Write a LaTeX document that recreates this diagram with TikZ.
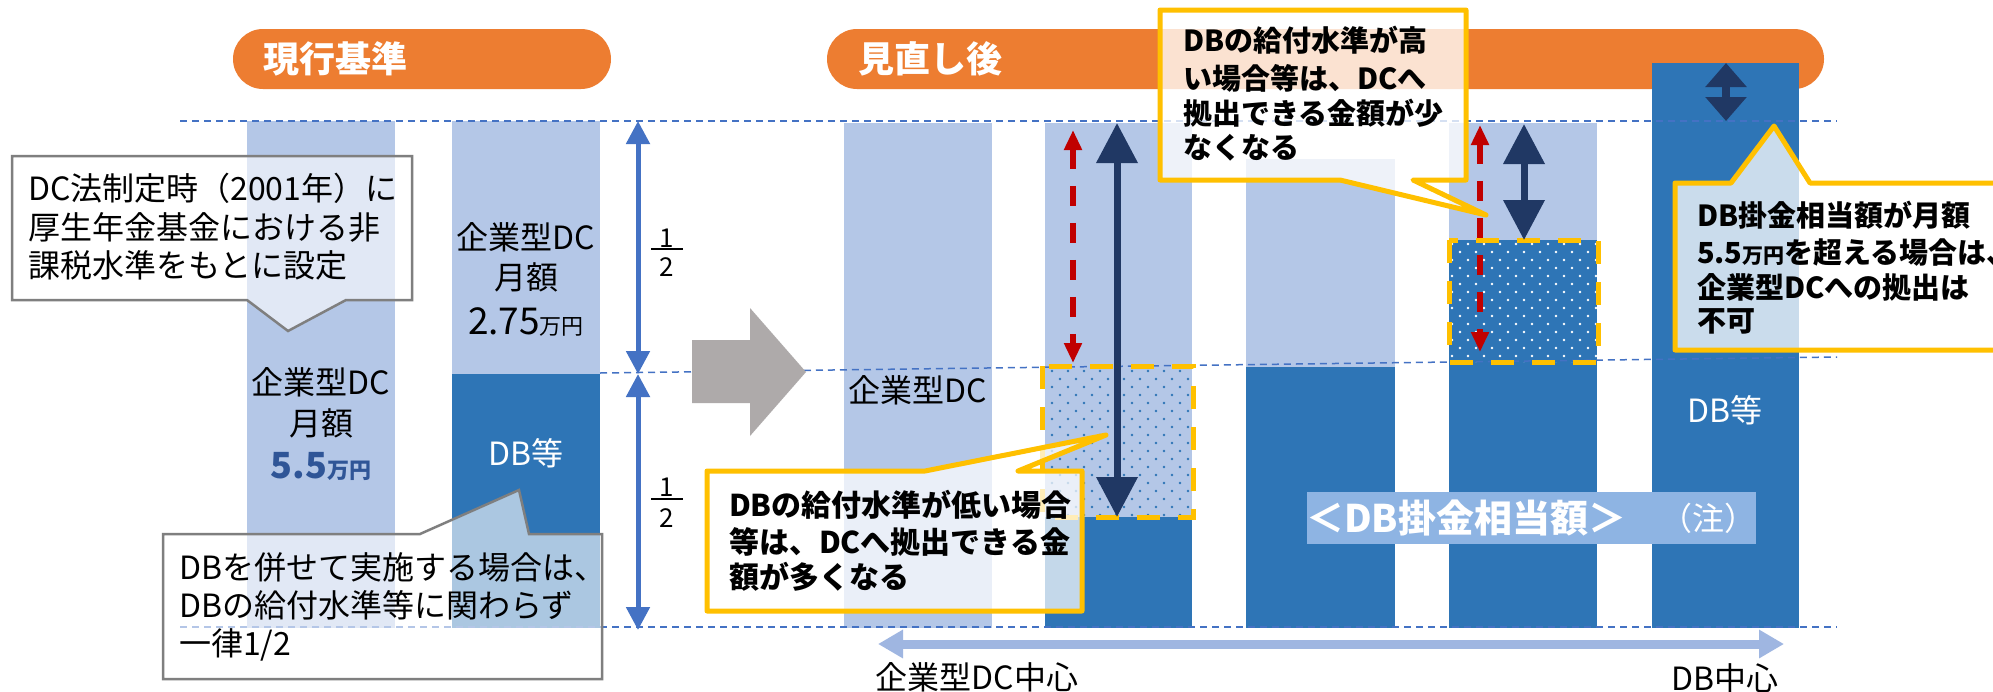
\documentclass[tikz,border=0pt]{standalone}
\usepackage{fontspec}
\setmainfont{Noto Sans CJK JP}
\usetikzlibrary{arrows.meta}
\definecolor{lb}{HTML}{B4C7E7}
\definecolor{db}{HTML}{2E75B6}
\definecolor{og}{HTML}{ED7D31}
\definecolor{dl}{HTML}{4472C4}
\definecolor{nv}{HTML}{203864}
\definecolor{rd}{HTML}{C00000}
\definecolor{yl}{HTML}{FFC000}
\definecolor{gy}{HTML}{AEAAAA}
\definecolor{cg}{HTML}{7F7F7F}
\definecolor{num}{HTML}{2F5597}
\definecolor{lab}{HTML}{8EB4E3}
\definecolor{ba}{HTML}{9FB6E1}
\tikzset{
  tx/.style={inner sep=0pt, outer sep=0pt},
  fr/.style={tx, font=\fontsize{#1}{#1}\selectfont, text height=0.88*#1pt, text depth=0.12*#1pt},
  fb/.style={tx, font=\bfseries\fontsize{#1}{#1}\selectfont, text height=0.88*#1pt, text depth=0.12*#1pt},
  dashln/.style={draw=dl, line width=1.5pt, dash pattern=on 7pt off 5pt},
  bluearr/.style={draw=dl, line width=5pt, {Triangle[width=23pt,length=23pt]}-{Triangle[width=23pt,length=23pt]}},
  navyarr/.style={draw=nv, line width=7pt, {Triangle[width=40pt,length=40pt]}-{Triangle[width=40pt,length=40pt]}},
  navysm/.style={draw=nv, line width=8pt, {Triangle[width=40pt,length=24pt]}-{Triangle[width=40pt,length=24pt]}},
  redarr/.style={draw=rd, line width=5.5pt, dash pattern=on 20pt off 17pt, {Triangle[width=17pt,length=20pt]}-{Triangle[width=17pt,length=20pt]}},
  botarr/.style={draw=ba, line width=9pt, {Triangle[width=27pt,length=25pt]}-{Triangle[width=27pt,length=25pt]}},
  ydash/.style={draw=yl, line width=5pt, dash pattern=on 23pt off 18pt},
  grayco/.style={fill=white, fill opacity=0.6, draw=cg, draw opacity=1, line width=2.5pt},
  yco/.style={fill=white, fill opacity=#1, draw=yl, draw opacity=1, line width=5pt, line join=round},
}
\begin{document}
\begin{tikzpicture}[x=1pt,y=-1pt]
\clip (0,0) rectangle (1993,691);
\fill[white] (0,0) rectangle (1993,691);

% pills
\fill[og, rounded corners=30pt] (233,29) rectangle (611,89);
\fill[og, rounded corners=30pt] (827,29) rectangle (1824,89);
\node[fb=36, text=white, anchor=west] (p1) at (263,59) {現行基準};
\node[fb=36, text=white, anchor=west] (p2) at (858,59) {見直し後};

% bars (current)
\fill[lb] (247,121) rectangle (395,628);
\fill[lb] (452,121) rectangle (600,374);
\fill[db] (452,374) rectangle (600,628);

% bars (after)
\fill[lb] (844,123) rectangle (992,628);
\fill[lb] (1045,123) rectangle (1192,517);
\fill[db] (1045,517) rectangle (1192,628);
\fill[lb] (1246,159) rectangle (1395,367);
\fill[db] (1246,367) rectangle (1395,628);
\fill[lb] (1449,123) rectangle (1597,240);
\fill[db] (1449,240) rectangle (1597,628);
\fill[db] (1652,63) rectangle (1799,628);

% dots
\begin{scope}
\clip (1045,366) rectangle (1192,517);
\foreach \j in {0,...,19} \foreach \i in {0,...,9}
  \fill[db] ({1052+\i*16+mod(\j,2)*8},{371+\j*8}) circle (1.3);
\end{scope}
\begin{scope}
\clip (1449,240) rectangle (1597,362);
\foreach \j in {0,...,15} \foreach \i in {0,...,9}
  \fill[white] ({1452+\i*16+mod(\j,2)*8},{244+\j*8}) circle (1.3);
\end{scope}

% dashed guide lines
\coordinate (gt1) at (180,121); \coordinate (gt2) at (1837,121);
\coordinate (gm1) at (600,373); \coordinate (gm2) at (1837,357);
\coordinate (gb1) at (180,627); \coordinate (gb2) at (1837,627);
\draw[dashln] (gt1) -- (gt2);
\draw[dashln] (gm1) -- (gm2);
\draw[dashln] (gb1) -- (gb2);

% yellow dashed boxes
\draw[ydash] (1042,366) rectangle (1193,517);
\draw[ydash] (1449,240) rectangle (1598,362);

% gray block arrow
\fill[gy] (692,340) -- (750,340) -- (750,308) -- (806,372) -- (750,436) -- (750,403) -- (692,403) -- cycle;

% bar texts
\node[fr=32] (b1a) at (321,382) {企業型DC};
\node[fr=32] (b1b) at (321,423) {月額};
\node[fb=36, text=num] (b1c) at (321,465) {5.5{\fontsize{22}{22}\selectfont 万円}};
\node[fr=32] (b2a) at (526,237) {企業型DC};
\node[fr=32] (b2b) at (526,277) {月額};
\node[fr=37] (b2c) at (526,320) {2.75{\fontsize{22}{22}\selectfont 万円}};
\node[fr=32, text=white] (b2d) at (526,453) {DB等};
\node[fr=32] (bAa) at (918,390) {企業型DC};
\node[fr=32, text=white] (bEa) at (1725,410) {DB等};

% left double arrow and fractions
\coordinate (la1) at (638,121); \coordinate (la2) at (638,374); \coordinate (la3) at (638,630);
\draw[bluearr] (la1) -- (la2);
\draw[bluearr] (la2) -- (la3);
\node[fr=26] (f1n) at (667,238) {1};
\coordinate (f1l) at (651,249); \coordinate (f1r) at (683,249);
\draw[line width=1.3pt] (f1l) -- (f1r);
\node[fr=26] (f1d) at (667,267) {2};
\node[fr=26] (f2n) at (667,487) {1};
\coordinate (f2l) at (651,499); \coordinate (f2r) at (683,499);
\draw[line width=1.3pt] (f2l) -- (f2r);
\node[fr=26] (f2d) at (667,518) {2};

% arrows in bars
\coordinate (rb1) at (1073,130); \coordinate (rb2) at (1073,363);
\draw[redarr] (rb1) -- (rb2);
\coordinate (nb1) at (1117,123); \coordinate (nb2) at (1117,517);
\draw[navyarr] (nb1) -- (nb2);
\coordinate (rd1) at (1480,125); \coordinate (rd2) at (1480,352);
\draw[redarr] (rd1) -- (rd2);
\coordinate (nd1) at (1524,124); \coordinate (nd2) at (1524,240);
\draw[navyarr] (nd1) -- (nd2);
\coordinate (ne1) at (1726,63); \coordinate (ne2) at (1726,121);
\draw[navysm] (ne1) -- (ne2);

% bottom arrow
\coordinate (ax1) at (878,644); \coordinate (ax2) at (1784,644);
\draw[botarr] (ax1) -- (ax2);
\node[fr=32] (lx1) at (977,677) {企業型DC中心};
\node[fr=32] (lx2) at (1725,678) {DB中心};

% label
\fill[lab] (1307,492) rectangle (1756,544);
\node[fb=38, text=white, anchor=west] (lab1) at (1306,518) {＜DB掛金相当額＞};
\node[fr=32, text=white] (lab2) at (1708,518) {（注）};

% gray callouts
\path[grayco] (12,156) -- (412,156) -- (412,300) -- (346,300) -- (288,331) -- (247,300) -- (12,300) -- cycle;
\node[fr=32, anchor=west] (c1a) at (28,188) {DC法制定時（2001年）に};
\node[fr=32, anchor=west] (c1b) at (28,227) {厚生年金基金における非};
\node[fr=32, anchor=west] (c1c) at (28,265) {課税水準をもとに設定};

\path[grayco] (163,534) -- (420,534) -- (519,490) -- (529,534) -- (602,534) -- (602,679) -- (163,679) -- cycle;
\node[fr=32, anchor=west] (c2a) at (179,567) {DBを併せて実施する場合は、};
\node[fr=32, anchor=west] (c2b) at (179,605) {DBの給付水準等に関わらず};
\node[fr=32, anchor=west] (c2c) at (179,643) {一律1/2};

% yellow callouts
\path[yco=0.72] (707,471) -- (925,471) -- (1106,435) -- (1018,471) -- (1082,471) -- (1082,611) -- (707,611) -- cycle;
\node[fb=30, anchor=west] (lo1) at (729,505) {DBの給付水準が低い場合};
\node[fb=30, anchor=west] (lo2) at (729,542) {等は、DCへ拠出できる金};
\node[fb=30, anchor=west] (lo3) at (729,577) {額が多くなる};

\path[yco=0.78] (1160,10) -- (1466,10) -- (1466,180) -- (1413,180) -- (1486,215) -- (1340,180) -- (1160,180) -- cycle;
\node[fb=29, anchor=west] (hi1) at (1183,40) {DBの給付水準が高};
\node[fb=29, anchor=west] (hi2) at (1183,78) {い場合等は、DCへ};
\node[fb=29, anchor=west] (hi3) at (1183,113) {拠出できる金額が少};
\node[fb=29, anchor=west] (hi4) at (1183,147) {なくなる};

\path[yco=0.75] (1675,183) -- (1731,183) -- (1774,126) -- (1810,183) -- (2010,183) -- (2010,350) -- (1675,350) -- cycle;
\node[fb=29, anchor=west] (r1) at (1697,215) {DB掛金相当額が月額};
\node[fb=29, anchor=west] (r2) at (1697,252) {5.5{\fontsize{21}{21}\selectfont 万円}を超える場合は、};
\node[fb=29, anchor=west] (r3) at (1697,287) {企業型DCへの拠出は};
\node[fb=29, anchor=west] (r4) at (1697,320) {不可};
\end{tikzpicture}
\end{document}
